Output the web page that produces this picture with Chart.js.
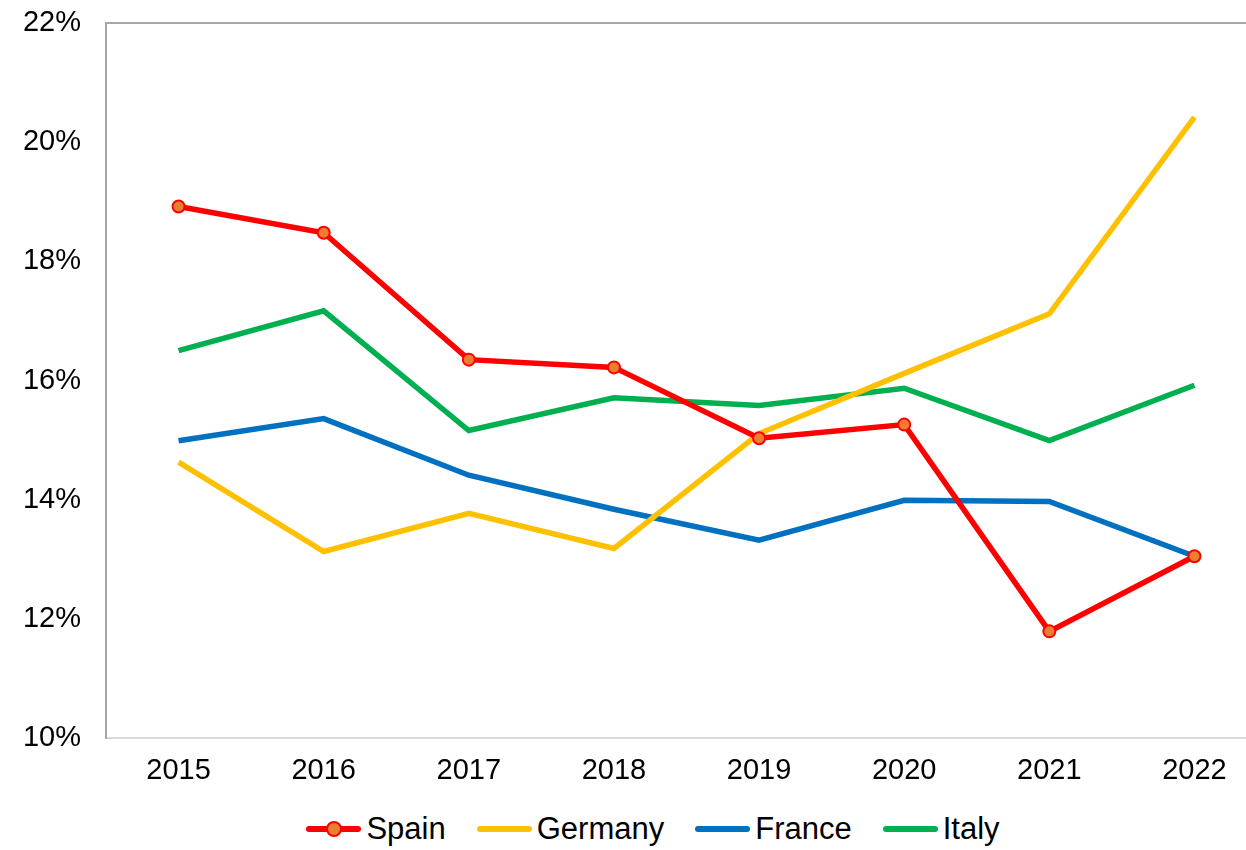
<!DOCTYPE html>
<html>
<head>
<meta charset="utf-8">
<script src="https://cdn.jsdelivr.net/npm/chart.js@4.4.1/dist/chart.umd.min.js"></script>
<style>
  html, body { margin: 0; padding: 0; background: #fff; }
  #wrap { position: relative; width: 1246px; height: 850px; overflow: hidden; }
  #box { position: absolute; left: 0; top: 0; width: 1275px; height: 790px; }
  #legend { position: absolute; left: 30px; top: 811px; width: 1246px; display: flex; justify-content: center; font-family: "Liberation Sans", Arial, sans-serif; font-size: 31px; color: #000; }
  .item { display: flex; align-items: center; margin: 0 15.5px; }
  .swatch { position: relative; width: 55px; height: 6px; border-radius: 3px; margin-right: 5px; }
  .dot { position: absolute; left: 20px; top: -5px; width: 12px; height: 12px; border-radius: 50%; background: #ed7d31; border: 2px solid #ff0000; }
</style>
</head>
<body>
<div id="wrap">
  <div id="box"><canvas id="chart"></canvas></div>
  <div id="legend"></div>
</div>
<script>
const years = ["2015", "2016", "2017", "2018", "2019", "2020", "2021", "2022"];
const spain = [18.92, 18.48, 16.35, 16.22, 15.03, 15.26, 11.79, 13.05];
const germany = [14.63, 13.13, 13.77, 13.18, 15.11, 16.12, 17.12, 20.42];
const france = [14.99, 15.36, 14.41, 13.84, 13.32, 13.99, 13.97, 13.05];
const italy = [16.50, 17.17, 15.16, 15.71, 15.58, 15.87, 14.99, 15.92];
const yTicks = [10, 12, 14, 16, 18, 20, 22];

const series = [
  { name: "Spain", data: spain, color: "#ff0000", marker: true },
  { name: "Germany", data: germany, color: "#ffc000", marker: false },
  { name: "France", data: france, color: "#0070c0", marker: false },
  { name: "Italy", data: italy, color: "#00b050", marker: false }
];

// top border of the plot area
const topBorder = {
  id: "topBorder",
  afterDraw(chart) {
    const a = chart.chartArea;
    const ctx = chart.ctx;
    ctx.save();
    ctx.strokeStyle = "#a6a6a6";
    ctx.lineWidth = 2;
    ctx.beginPath();
    ctx.moveTo(a.left, a.top);
    ctx.lineTo(a.right, a.top);
    ctx.stroke();
    ctx.restore();
  }
};

const font = { family: "'Liberation Sans', Arial, sans-serif", size: 29 };

new Chart(document.getElementById("chart"), {
  type: "line",
  data: {
    labels: years,
    datasets: series.map(s => ({
      label: s.name,
      data: s.data,
      borderColor: s.color,
      backgroundColor: s.color,
      borderWidth: 5.5,
      tension: 0,
      pointRadius: s.marker ? 6 : 0,
      pointHoverRadius: s.marker ? 6 : 0,
      pointBackgroundColor: "#ed7d31",
      pointBorderColor: "#ff0000",
      pointBorderWidth: 2
    }))
  },
  options: {
    responsive: true,
    maintainAspectRatio: false,
    animation: false,
    layout: { padding: { top: 23, right: 4, left: 0, bottom: 0 } },
    plugins: {
      legend: { display: false },
      tooltip: { enabled: false }
    },
    scales: {
      x: {
        offset: true,
        grid: { display: false, drawTicks: false },
        border: { display: true, color: "#d9d9d9", width: 2 },
        ticks: { color: "#000", font: font, padding: 16, maxRotation: 0 },
        afterFit(scale) { scale.height = 52; }
      },
      y: {
        min: 10,
        max: 22,
        grid: { display: false, drawTicks: false },
        border: { display: true, color: "#a6a6a6", width: 2 },
        afterBuildTicks(scale) { scale.ticks = yTicks.map(v => ({ value: v })); },
        ticks: {
          color: "#000",
          font: font,
          padding: 25,
          callback: v => v + "%"
        },
        afterFit(scale) {
          scale.width = 106;
          scale.paddingTop = 0;
          scale.paddingBottom = 0;
        }
      }
    }
  },
  plugins: [topBorder]
});

const legend = document.getElementById("legend");
series.forEach(s => {
  const item = document.createElement("div");
  item.className = "item";
  const sw = document.createElement("div");
  sw.className = "swatch";
  sw.style.background = s.color;
  if (s.marker) {
    const dot = document.createElement("div");
    dot.className = "dot";
    sw.appendChild(dot);
  }
  const txt = document.createElement("span");
  txt.textContent = s.name;
  item.appendChild(sw);
  item.appendChild(txt);
  legend.appendChild(item);
});
</script>
</body>
</html>
